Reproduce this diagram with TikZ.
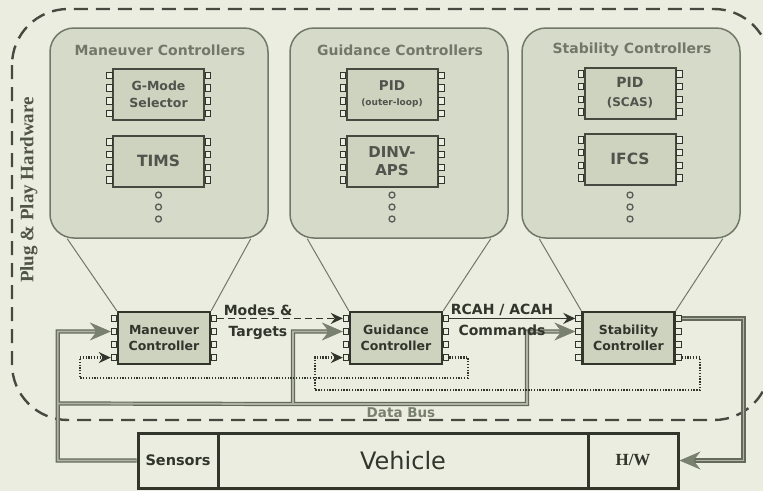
\documentclass[tikz,border=0pt]{standalone}
\usepackage{fontspec}
\setmainfont{DejaVu Sans}
\newfontfamily\serf{Liberation Serif}
\usetikzlibrary{arrows.meta,calc}
\definecolor{bg}{RGB}{234,237,223}
\definecolor{panelfill}{RGB}{213,218,201}
\definecolor{chipfill}{RGB}{205,211,191}
\definecolor{ink}{RGB}{50,53,44}
\definecolor{midgray}{RGB}{114,120,104}
\definecolor{busdark}{RGB}{100,105,92}
\definecolor{buslight}{RGB}{175,180,165}
\definecolor{tipgray}{RGB}{122,128,112}
\tikzset{
  panel/.style={draw=midgray, line width=1.5pt, fill=panelfill, rounded corners=24pt,
    minimum width=218pt, minimum height=210pt, inner sep=0pt},
  ptitle/.style={text=midgray, font=\bfseries\fontsize{14}{16}\selectfont},
  chip/.style={draw=ink!90, line width=2pt, fill=chipfill, minimum width=91pt,
    minimum height=51pt, inner sep=0pt, align=center, text=ink!85},
  ctrl/.style={draw=ink, line width=2.4pt, fill=chipfill, minimum width=92pt,
    minimum height=52pt, inner sep=0pt, align=center, text=ink,
    font=\bfseries\fontsize{12.5}{16}\selectfont},
  pin/.style={draw=ink, line width=1pt, fill=bg, minimum width=5.5pt,
    minimum height=6.5pt, inner sep=0pt},
  dotc/.style={circle, draw=ink!80, line width=1.3pt, minimum size=6pt, inner sep=0pt},
  trap/.style={draw=midgray, line width=1pt},
  vbox/.style={draw=ink, line width=3pt, fill=bg, minimum height=55pt, inner sep=0pt},
  bus/.style={draw=busdark, line width=1.2pt, double=buslight, double distance=1.8pt},
  bigtip/.style={draw=tipgray, fill=tipgray, line width=0.6pt,
    -{Stealth[length=21pt,width=18pt,inset=7pt]}},
  smalltip/.style={-{Stealth[length=12pt,width=11pt,inset=4pt]}},
  dashline/.style={draw=ink, line width=1.7pt, dash pattern=on 7pt off 4pt, smalltip},
  solidline/.style={draw=ink, line width=1.7pt, smalltip},
  dotline/.style={draw=ink, line width=2.2pt, dash pattern=on 1.3pt off 1.5pt, smalltip},
  outerbox/.style={draw=ink!90, line width=2.4pt, dash pattern=on 14pt off 8pt, rounded corners=56pt},
  lbl/.style={text=ink, align=center, font=\bfseries\fontsize{14}{21}\selectfont}
}
\newcommand\pinset[1]{%
  \foreach \f [count=\i] in {0.14,0.38,0.62,0.86}{%
    \node[pin] (#1l\i) at ($(#1.north west)!\f!(#1.south west)+(-2.75,0)$) {};
    \node[pin] (#1r\i) at ($(#1.north east)!\f!(#1.south east)+(2.75,0)$) {};
  }}
\begin{document}
\begin{tikzpicture}[x=1pt,y=-1pt]
\useasboundingbox (0,0) rectangle (763,491);
\fill[bg] (0,0) rectangle (763,491);
% outer plug & play region
\draw[outerbox] (12,9) rectangle (770,420);
\node[rotate=90, text={rgb,255:red,80;green,85;blue,70},
  font=\serf\bfseries\fontsize{19}{20}\selectfont] (pph) at (29,190) {Plug \& Play Hardware};
% panels
\node[panel] (pm) at (159,133) {};
\node[panel] (pg) at (399,133) {};
\node[panel] (ps) at (631,133) {};
\node[ptitle] (tm) at (160,50) {Maneuver Controllers};
\node[ptitle] (tg) at (400,50) {Guidance Controllers};
\node[ptitle] (ts) at (632,50) {Stability Controllers};
% chips
\node[chip, font=\bfseries\fontsize{12.5}{17}\selectfont] (c1) at (158.5,94.5) {G-Mode\\Selector};
\node[chip, font=\bfseries\fontsize{15.5}{18}\selectfont] (c2) at (158.5,161) {TIMS};
\node[chip, font=\bfseries\fontsize{13.5}{17}\selectfont] (c3) at (392,94.5) {PID\\[-2pt]{\fontsize{9}{10}\selectfont(outer-loop)}};
\node[chip, font=\bfseries\fontsize{15}{18}\selectfont] (c4) at (392,161) {DINV-\\APS};
\node[chip, font=\bfseries\fontsize{14}{19}\selectfont] (c5) at (630,93) {PID\\{\fontsize{12}{14}\selectfont(SCAS)}};
\node[chip, font=\bfseries\fontsize{15.5}{18}\selectfont] (c6) at (630,159) {IFCS};
\pinset{c1}\pinset{c2}\pinset{c3}\pinset{c4}\pinset{c5}\pinset{c6}
% dots
\foreach \x/\n in {158.5/m,392/g,630/s}{
  \node[dotc] (d\n1) at (\x,195) {};
  \node[dotc] (d\n2) at (\x,207) {};
  \node[dotc] (d\n3) at (\x,219) {};
}
% controllers
\node[ctrl] (mc) at (164,338) {Maneuver\\Controller};
\node[ctrl] (gc) at (396,338) {Guidance\\Controller};
\node[ctrl] (sc) at (628.5,338) {Stability\\Controller};
\pinset{mc}\pinset{gc}\pinset{sc}
% trapezoid lines
\draw[trap] ($(pm.south west)+(18,0)$) -- (mc.north west);
\draw[trap] ($(pm.south east)+(-18,0)$) -- (mc.north east);
\draw[trap] ($(pg.south west)+(18,0)$) -- (gc.north west);
\draw[trap] ($(pg.south east)+(-18,0)$) -- (gc.north east);
\draw[trap] ($(ps.south west)+(18,0)$) -- (sc.north west);
\draw[trap] ($(ps.south east)+(-18,0)$) -- (sc.north east);
% vehicle
\node[vbox, minimum width=80pt] (sensors) at (178,460.5) {};
\node[vbox, minimum width=370pt] (vehicle) at (403,460.5) {};
\node[vbox, minimum width=90pt] (hw) at (633,460.5) {};
\node[text=ink, font=\bfseries\fontsize{14.5}{16}\selectfont] (tsens) at (sensors) {Sensors};
\node[text=ink, font=\fontsize{24}{26}\selectfont] (tveh) at (vehicle) {Vehicle};
\node[text=ink, font=\serf\bfseries\fontsize{17}{18}\selectfont] (thw) at (hw) {H/W};
% data bus
\draw[bus] (sensors.west) -| ($(mcl2.west)+(-53,0)$) -- ($(mcl2.west)+(-10,0)$)
  ($(mcl2.west)+(-53,72)$) -- (293,404) |- ($(gcl2.west)+(-10,0)$)
  (293,404) -- (527,404) |- ($(scl2.west)+(-10,0)$);
\draw[bus] (scr1.east) -| ($(hw.east)+(64,0)$) -- ($(hw.east)+(10,0)$);
\draw[bigtip] ($(mcl2.west)+(-16,0)$) -- (mcl2.west);
\draw[bigtip] ($(gcl2.west)+(-16,0)$) -- (gcl2.west);
\draw[bigtip] ($(scl2.west)+(-16,0)$) -- (scl2.west);
\draw[bigtip] ($(hw.east)+(16,0)$) -- (hw.east);
\node[text=tipgray, font=\bfseries\fontsize{13.5}{15}\selectfont] (dbus) at (401,413) {Data Bus};
% commands
\draw[dashline] (mcr1.east) -- (gcl1.west);
\draw[solidline] (gcr1.east) -- (scl1.west);
% feedback loops
\draw[dotline] (gcr4.east) -| (468,378) -| ($(mcl4.west)+(-31,0)$) -- (mcl4.west);
\draw[dotline] (scr4.east) -| (700,390) -| ($(gcl4.west)+(-28,0)$) -- (gcl4.west);
% labels
\node[lbl] (modes) at (258,322) {Modes \&\\Targets};
\node[lbl] (rcah) at (502,320) {RCAH / ACAH\\Commands};
\end{tikzpicture}
\end{document}
